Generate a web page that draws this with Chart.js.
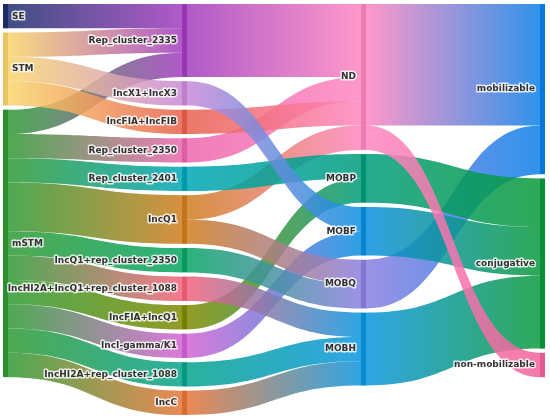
<!DOCTYPE html>
<html>
<head>
<meta charset="utf-8">
<script src="https://cdn.jsdelivr.net/npm/chart.js@4.4.1/dist/chart.umd.min.js"></script>
<style>
  html, body { margin: 0; padding: 0; background: #fff; }
  #wrap { width: 550px; height: 419px; }
</style>
</head>
<body>
<div id="wrap"><canvas id="sankey"></canvas></div>
<script>
const nodeLabels = [
  'SE', 'STM', 'mSTM',
  'Rep_cluster_2335', 'IncX1+IncX3', 'IncFIA+IncFIB', 'Rep_cluster_2350', 'Rep_cluster_2401',
  'IncQ1', 'IncQ1+rep_cluster_2350', 'IncHI2A+IncQ1+rep_cluster_1088', 'IncFIA+IncQ1',
  'IncI-gamma/K1', 'IncHI2A+rep_cluster_1088', 'IncC',
  'ND', 'MOBP', 'MOBF', 'MOBQ', 'MOBH',
  'mobilizable', 'conjugative', 'non-mobilizable'
];

// links, grouped by target in the order they enter the target
const linkSource = [0, 1, 2, 1, 1, 2, 2, 2, 2, 2, 2, 2, 2, 2,
                    3, 6, 5, 8, 7, 11, 4, 12, 8, 9, 10, 13, 14,
                    15, 18, 16, 17, 19, 15];
const linkTarget = [3, 3, 3, 4, 5, 6, 7, 8, 9, 10, 11, 12, 13, 14,
                    15, 15, 15, 15, 16, 16, 17, 17, 18, 18, 19, 19, 19,
                    20, 20, 21, 21, 21, 22];
const linkValue  = [1, 1, 1, 1, 1, 1, 1, 2, 1, 1, 1, 1, 1, 1,
                    3, 1, 1, 1, 1, 1, 1, 1, 1, 1, 1, 1, 1,
                    5, 2, 2, 2, 3, 1];

const nodeColors = [
  '#1e2f6e', '#f9d66c', '#2f9a34',
  '#a23dbf', '#c98ad9', '#e8604c', '#ec66ad', '#00a6b6',
  '#cf7d1e', '#06a564', '#f4627a', '#7f8a00',
  '#d463d4', '#06a38c', '#e67536',
  '#ff86c1', '#009c7c', '#0a8fe0', '#8b7fe0', '#0a96e0',
  '#0a80e8', '#0a9a3a', '#f0629b'
];

const NODE_WIDTH = 5;
const NODE_PAD = 0.173;
const LINK_ALPHA = 0.85;

// ---- layout in value units ----
const n = nodeLabels.length;
const depth = new Array(n).fill(0);
for (let k = 0; k < n; k++) {
  linkSource.forEach((s, j) => {
    depth[linkTarget[j]] = Math.max(depth[linkTarget[j]], depth[s] + 1);
  });
}
const nodeValue = nodeLabels.map((_, i) => {
  let out = 0, inn = 0;
  linkSource.forEach((s, j) => {
    if (s === i) out += linkValue[j];
    if (linkTarget[j] === i) inn += linkValue[j];
  });
  return Math.max(out, inn);
});
const maxDepth = Math.max(...depth);
const nodeY0 = [];
let yMax = 0;
for (let c = 0; c <= maxDepth; c++) {
  let y = 0;
  nodeLabels.forEach((_, i) => {
    if (depth[i] !== c) return;
    nodeY0[i] = y;
    y += nodeValue[i] + NODE_PAD;
  });
  yMax = Math.max(yMax, y - NODE_PAD);
}

const linkSy0 = [], linkTy0 = [];
nodeLabels.forEach((_, i) => {
  let y = nodeY0[i];
  linkSource.map((s, j) => j)
    .filter(j => linkSource[j] === i)
    .sort((a, b) => linkTarget[a] - linkTarget[b])
    .forEach(j => { linkSy0[j] = y; y += linkValue[j]; });
  y = nodeY0[i];
  linkTarget.map((t, j) => j)
    .filter(j => linkTarget[j] === i)
    .forEach(j => { linkTy0[j] = y; y += linkValue[j]; });
});

function withAlpha(hex, a) {
  const v = parseInt(hex.slice(1), 16);
  return `rgba(${(v >> 16) & 255}, ${(v >> 8) & 255}, ${v & 255}, ${a})`;
}

const sankeyPlugin = {
  id: 'sankeyPlugin',
  afterDatasetsDraw(chart) {
    const { ctx, scales: { x, y } } = chart;
    ctx.save();

    // links
    linkSource.forEach((s, j) => {
      const t = linkTarget[j];
      const x0 = x.getPixelForValue(depth[s]) + NODE_WIDTH;
      const x1 = x.getPixelForValue(depth[t]);
      const xm = (x0 + x1) / 2;
      const sTop = y.getPixelForValue(linkSy0[j]);
      const sBot = y.getPixelForValue(linkSy0[j] + linkValue[j]);
      const tTop = y.getPixelForValue(linkTy0[j]);
      const tBot = y.getPixelForValue(linkTy0[j] + linkValue[j]);
      const grad = ctx.createLinearGradient(x0, 0, x1, 0);
      grad.addColorStop(0, withAlpha(nodeColors[s], LINK_ALPHA));
      grad.addColorStop(1, withAlpha(nodeColors[t], LINK_ALPHA));
      ctx.beginPath();
      ctx.moveTo(x0, sTop);
      ctx.bezierCurveTo(xm, sTop, xm, tTop, x1, tTop);
      ctx.lineTo(x1, tBot);
      ctx.bezierCurveTo(xm, tBot, xm, sBot, x0, sBot);
      ctx.closePath();
      ctx.fillStyle = grad;
      ctx.fill();
    });

    // nodes (slightly darker stripe than the links)
    nodeLabels.forEach((_, i) => {
      const px = x.getPixelForValue(depth[i]);
      const top = y.getPixelForValue(nodeY0[i]);
      const bot = y.getPixelForValue(nodeY0[i] + nodeValue[i]);
      ctx.fillStyle = nodeColors[i];
      ctx.fillRect(px, top, NODE_WIDTH, bot - top);
      ctx.fillStyle = 'rgba(0, 0, 0, 0.07)';
      ctx.fillRect(px, top, NODE_WIDTH, bot - top);
    });

    // labels
    ctx.font = 'bold 9px "DejaVu Sans", Verdana, sans-serif';
    ctx.textBaseline = 'middle';
    ctx.lineJoin = 'round';
    nodeLabels.forEach((label, i) => {
      const px = x.getPixelForValue(depth[i]);
      const cy = y.getPixelForValue(nodeY0[i] + nodeValue[i] / 2);
      let tx;
      if (depth[i] === 0) {
        ctx.textAlign = 'left';
        tx = px + NODE_WIDTH + 4;
      } else {
        ctx.textAlign = 'right';
        tx = px - 5;
      }
      ctx.lineWidth = 3;
      ctx.strokeStyle = 'rgba(255, 255, 255, 0.8)';
      ctx.strokeText(label, tx, cy);
      ctx.fillStyle = '#333333';
      ctx.fillText(label, tx, cy);
    });

    ctx.restore();
  }
};

new Chart(document.getElementById('sankey'), {
  type: 'scatter',
  data: { datasets: [{ data: [] }] },
  options: {
    responsive: true,
    maintainAspectRatio: false,
    animation: false,
    layout: { padding: { left: 3, right: 10, top: 4, bottom: 4 } },
    plugins: {
      legend: { display: false },
      tooltip: { enabled: false }
    },
    scales: {
      x: { type: 'linear', min: 0, max: maxDepth, display: false },
      y: { type: 'linear', min: 0, max: yMax, reverse: true, display: false }
    }
  },
  plugins: [sankeyPlugin]
});
</script>
</body>
</html>
